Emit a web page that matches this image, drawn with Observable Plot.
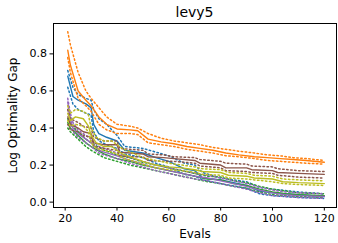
<!DOCTYPE html>
<html><head><meta charset="utf-8">
<script src="https://cdn.jsdelivr.net/npm/d3@7"></script>
<script src="https://cdn.jsdelivr.net/npm/@observablehq/plot@0.6"></script>
<style>
body{margin:0;background:#fff;font-family:"DejaVu Sans",sans-serif;}
#title{margin-left:53px;width:283px;height:19px;padding-top:2px;line-height:21px;text-align:center;font-size:14px;color:#000;}
#chart svg{display:block;}
</style></head>
<body>
<div id="title">levy5</div>
<div id="chart"></div>
<script>
const xTicks = [20, 40, 60, 80, 100, 120];
const yTicks = [0, 0.2, 0.4, 0.6, 0.8];

const blueX    = [21, 23, 25, 28, 30, 31, 33, 36, 40, 43, 50, 55, 60, 63, 66, 70, 73, 80, 90, 95, 100, 110, 120];
const blueMean = [.68, .57, .55, .53, .51, .42, .37, .35, .33, .28, .265, .24, .22, .20, .18, .17, .13, .12, .09, .06, .05, .04, .03];
const blueHi   = [.71, .62, .58, .56, .55, .50, .45, .42, .36, .30, .29, .27, .25, .23, .21, .20, .16, .13, .11, .08, .07, .055, .045];
const blueLo   = [.62, .53, .50, .48, .47, .38, .33, .31, .29, .26, .24, .21, .19, .17, .15, .14, .12, .10, .075, .045, .035, .025, .02];

const orangeX    = [21, 22, 25, 28, 30, 33, 36, 40, 45, 48, 52, 57, 62, 67, 72, 77, 82, 87, 93, 98, 103, 108, 113, 120];
const orangeMean = [.82, .74, .60, .55, .52, .46, .42, .395, .39, .385, .34, .325, .315, .30, .29, .28, .265, .255, .245, .24, .235, .23, .225, .215];
const orangeHi   = [.92, .85, .70, .60, .56, .51, .46, .42, .41, .40, .37, .345, .33, .32, .31, .295, .285, .275, .265, .255, .25, .24, .235, .225];
const orangeLo   = [.78, .70, .56, .52, .49, .42, .39, .37, .37, .365, .32, .31, .30, .285, .275, .265, .25, .245, .235, .225, .22, .215, .21, .205];

const greenX    = [21, 22, 25, 28, 30, 35, 40, 45, 50, 55, 60, 65, 70, 75, 80, 85, 90, 95, 100, 105, 110, 120];
const greenMean = [.43, .40, .36, .32, .30, .26, .235, .22, .20, .185, .17, .155, .14, .125, .12, .10, .09, .07, .055, .045, .04, .035];
const greenHi   = [.45, .42, .38, .34, .32, .28, .255, .24, .215, .20, .185, .17, .155, .14, .135, .115, .105, .085, .07, .06, .05, .045];
const greenLo   = [.40, .38, .34, .30, .28, .24, .22, .20, .185, .17, .155, .14, .125, .11, .10, .085, .075, .055, .04, .035, .03, .025];

const purpleX    = [21, 22, 23, 25, 28, 30, 33, 35, 40, 45, 50, 55, 60, 65, 70, 75, 80, 85, 90, 95, 100, 105, 110, 120];
const purpleMean = [.54, .45, .40, .37, .34, .32, .28, .27, .25, .225, .205, .185, .17, .155, .14, .13, .115, .10, .085, .065, .05, .04, .035, .03];
const purpleHi   = [.56, .48, .43, .39, .36, .34, .30, .29, .265, .24, .22, .20, .185, .17, .155, .145, .13, .115, .10, .08, .065, .055, .05, .045];
const purpleLo   = [.50, .42, .38, .35, .32, .30, .265, .255, .235, .21, .19, .17, .155, .14, .125, .115, .10, .085, .07, .05, .035, .03, .025, .02];

const brownX    = [21, 22, 25, 27, 30, 31, 35, 40, 41, 45, 50, 52, 58, 62, 70, 72, 80, 82, 90, 92, 100, 102, 110, 120];
const brownMean = [.46, .42, .40, .38, .37, .32, .31, .31, .27, .265, .26, .245, .24, .235, .225, .21, .20, .185, .185, .175, .17, .16, .155, .15];
const brownHi   = [.50, .45, .43, .41, .40, .35, .33, .33, .29, .285, .28, .26, .255, .245, .24, .23, .22, .21, .205, .195, .19, .18, .17, .165];
const brownLo   = [.42, .39, .38, .36, .35, .30, .29, .28, .25, .245, .245, .225, .22, .22, .21, .195, .185, .17, .165, .16, .155, .145, .135, .13];

const oliveX    = [21, 22, 24, 27, 29, 30, 32, 35, 38, 40, 42, 50, 55, 60, 65, 70, 73, 80, 83, 90, 93, 100, 104, 110, 120];
const oliveMean = [.48, .44, .46, .45, .41, .36, .32, .30, .30, .28, .26, .22, .20, .19, .185, .175, .165, .16, .145, .14, .13, .125, .11, .105, .10];
const oliveHi   = [.52, .48, .50, .49, .47, .40, .35, .33, .33, .31, .29, .24, .225, .21, .20, .19, .18, .175, .16, .155, .145, .14, .125, .12, .115];
const oliveLo   = [.44, .41, .42, .41, .38, .32, .29, .28, .27, .26, .24, .205, .185, .175, .17, .16, .15, .145, .13, .125, .12, .11, .10, .095, .09];

const seriesNames  = ["s0", "s1", "s2", "s4", "s5", "s8"];
const seriesColors = ["#1f77b4", "#ff7f0e", "#2ca02c", "#9467bd", "#8c564b", "#bcbd22"];

const seriesData = {
  s0: [blueX, blueMean, blueHi, blueLo],
  s1: [orangeX, orangeMean, orangeHi, orangeLo],
  s2: [greenX, greenMean, greenHi, greenLo],
  s4: [purpleX, purpleMean, purpleHi, purpleLo],
  s5: [brownX, brownMean, brownHi, brownLo],
  s8: [oliveX, oliveMean, oliveHi, oliveLo]
};

const rows = [];
seriesNames.forEach(name => {
  const [xs, m, hi, lo] = seriesData[name];
  xs.forEach((x, i) => {
    rows.push({series: name, stat: "mean", x, y: m[i]});
    rows.push({series: name, stat: "hi", x, y: hi[i]});
    rows.push({series: name, stat: "lo", x, y: lo[i]});
  });
});

const marks = [];
seriesNames.forEach(name => {
  const d = rows.filter(r => r.series === name);
  marks.push(Plot.line(d.filter(r => r.stat === "hi"), {x: "x", y: "y", stroke: "series", strokeWidth: 1.5, strokeDasharray: "1.5,2.5"}));
  marks.push(Plot.line(d.filter(r => r.stat === "lo"), {x: "x", y: "y", stroke: "series", strokeWidth: 1.5, strokeDasharray: "1.5,2.5"}));
  marks.push(Plot.line(d.filter(r => r.stat === "mean"), {x: "x", y: "y", stroke: "series", strokeWidth: 1.4}));
});

const chart = Plot.plot({
  width: 338,
  height: 222,
  marginLeft: 53,
  marginRight: 2,
  marginTop: 2,
  marginBottom: 36,
  style: {color: "#000", background: "#fff", fontFamily: "DejaVu Sans, sans-serif"},
  x: {domain: [15.5, 124.7]},
  y: {domain: [-0.029, 0.964]},
  color: {type: "ordinal", domain: seriesNames, range: seriesColors},
  marks: [
    ...marks,
    Plot.frame({stroke: "#000", strokeWidth: 1}),
    Plot.axisX({ticks: xTicks, tickSize: 3.5, tickPadding: 3, fontSize: 11, label: null}),
    Plot.axisY({ticks: yTicks, tickSize: 3.5, tickPadding: 3, fontSize: 11, label: null, tickFormat: d => d.toFixed(1)}),
    Plot.text(["Evals"], {text: d => d, frameAnchor: "bottom", dy: 30.7, fontSize: 12}),
    Plot.text(["Log Optimality Gap"], {text: d => d, frameAnchor: "left", textAnchor: "middle", dx: -40, rotate: -90, fontSize: 12})
  ]
});
document.getElementById("chart").appendChild(chart);
</script>
</body></html>
